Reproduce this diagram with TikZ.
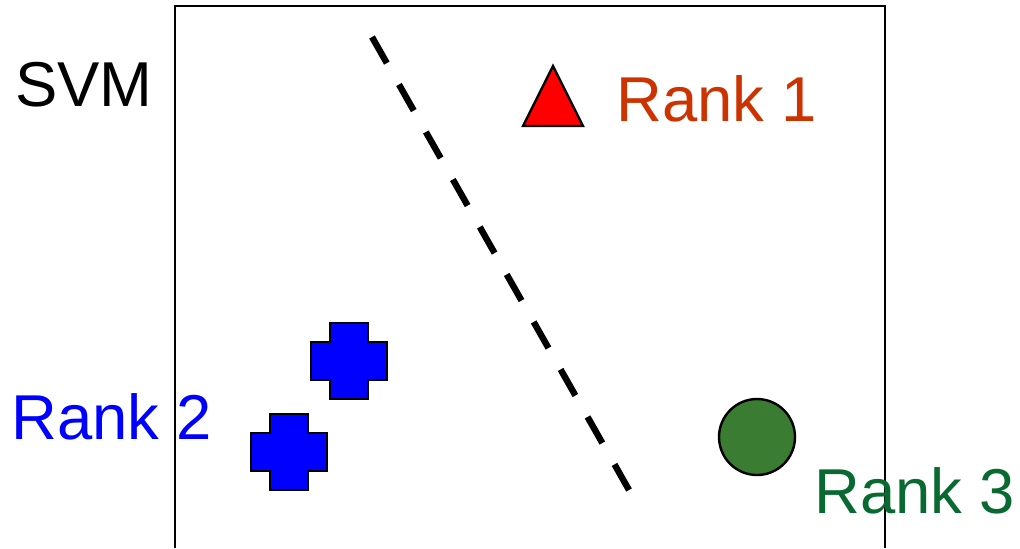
\documentclass[tikz,border=0pt]{standalone}
\usepackage{fontspec}
\setmainfont{Liberation Sans}
\usepackage{tikz}

\definecolor{rankone}{HTML}{CC3300}
\definecolor{rankthree}{HTML}{086A30}
\definecolor{dotgreen}{HTML}{3A7D32}

\begin{document}
\begin{tikzpicture}[x=0.5pt, y=-0.5pt, every node/.style={font=\fontsize{31.7pt}{38pt}\selectfont, inner sep=0pt, anchor=base west},
	marker/.style={draw=black, line width=1.2pt}]
	\useasboundingbox (0,0) rectangle (1020,548);
	\draw[line width=1pt] (175,548) -- (175,6) -- (885,6) -- (885,548);
	% separating line
	\coordinate (top) at (372,37);
	\coordinate (bot) at (629,490);
	\draw[line width=3.2pt, dash pattern=on 15pt off 12.3pt] (top) -- (bot);
	% rank 2 points
	\foreach \cx/\cy in {349/361, 289/452}
		\fill[blue, marker] (\cx-19,\cy-38) -- (\cx+19,\cy-38) -- (\cx+19,\cy-19) -- (\cx+38,\cy-19) -- (\cx+38,\cy+19) -- (\cx+19,\cy+19) -- (\cx+19,\cy+38) -- (\cx-19,\cy+38) -- (\cx-19,\cy+19) -- (\cx-38,\cy+19) -- (\cx-38,\cy-19) -- (\cx-19,\cy-19) -- cycle;
	% rank 1 and rank 3 points
	\filldraw[red, draw=black, line width=1.2pt] (553,66) -- (583,126) -- (523,126) -- cycle;
	\filldraw[dotgreen, draw=black, line width=1.2pt] (757,437) circle[radius=38];
	\node (svm) at (15,106) {SVM};
	\node[rankone] (r1) at (616,121) {Rank 1};
	\node[blue] (r2) at (11,439) {Rank 2};
	\node[rankthree] (r3) at (814,513) {Rank 3};
\end{tikzpicture}
\end{document}
